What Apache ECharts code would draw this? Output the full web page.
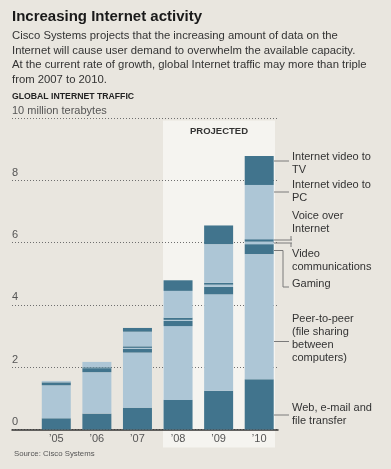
<!DOCTYPE html>
<html><head><meta charset="utf-8">
<script src="https://cdn.jsdelivr.net/npm/echarts@6/dist/echarts.min.js"></script>
<style>html,body{margin:0;padding:0;background:#e9e6df;}#c{width:391px;height:469px;}</style>
</head><body><div id="c"></div>
<script>
// ---- data (10 million terabytes) ----
const years = ['\u201905', '\u201906', '\u201907', '\u201908', '\u201909', '\u201910'];
const webEmail = [0.36, 0.51, 0.70, 0.95, 1.24, 1.61];
const peerToPeer = [1.06, 1.33, 1.77, 2.37, 3.10, 4.02];
const gaming = [0.09, 0.13, 0.12, 0.17, 0.24, 0.32];
const videoComm = [0.01, 0.01, 0.03, 0.03, 0.07, 0.08];
const voip = [0.01, 0.02, 0.05, 0.07, 0.06, 0.08];
const videoPC = [0.03, 0.17, 0.47, 0.86, 1.24, 1.74];
const videoTV = [0.00, 0.00, 0.12, 0.34, 0.60, 0.93];
const yTicks = [0, 2, 4, 6, 8, 10];
const yTopLabel = '10 million terabytes';

const DARK = '#41748d', LIGHT = '#adc6d6';
const FONT = '"Liberation Sans", Arial, Helvetica, sans-serif';

const seriesDefs = [
  ['Web, e-mail and file transfer', webEmail, DARK],
  ['Peer-to-peer', peerToPeer, LIGHT],
  ['Gaming', gaming, DARK],
  ['Video communications', videoComm, LIGHT],
  ['Voice over Internet', voip, DARK],
  ['Internet video to PC', videoPC, LIGHT],
  ['Internet video to TV', videoTV, DARK]
];

const chart = echarts.init(document.getElementById('c'), null, {renderer: 'canvas'});

const ann = [
  {t: 'Internet video to\nTV', y: 150.2},
  {t: 'Internet video to\nPC', y: 178.5},
  {t: 'Voice over\nInternet', y: 209.2},
  {t: 'Video\ncommunications', y: 247.5},
  {t: 'Gaming', y: 277.5},
  {t: 'Peer-to-peer\n(file sharing\nbetween\ncomputers)', y: 312.5},
  {t: 'Web, e-mail and\nfile transfer', y: 401.2}
];
const leaderLines = [
  [[274,161],[289,161]],
  [[274,192],[289,192]],
  [[274,240],[292,240]],
  [[291,236],[291,240]],
  [[274,243],[292,243]],
  [[291,243],[291,247]],
  [[274,250.5],[283,250.5],[283,287],[289,287]],
  [[274,341.5],[289,341.5]],
  [[274,415],[289,415]]
];

const graphics = [];
ann.forEach(a => graphics.push({
  type: 'text', left: 292, top: a.y, silent: true,
  style: {text: a.t, fill: '#333', font: '11px ' + FONT, lineHeight: 13}
}));
leaderLines.forEach(p => graphics.push({
  type: 'polyline', silent: true, shape: {points: p},
  style: {stroke: '#7a7a7a', lineWidth: 1, fill: null}
}));

chart.setOption({
  backgroundColor: '#e9e6df',
  animation: false,
  title: [
    {text: 'Increasing Internet activity', left: 12, top: 9, padding: 0,
      textStyle: {fontFamily: FONT, fontSize: 15, fontWeight: 'bold', color: '#1a1a1a'}},
    {text: 'Cisco Systems projects that the increasing amount of data on the\nInternet will cause user demand to overwhelm the available capacity.\nAt the current rate of growth, global Internet traffic may more than triple\nfrom 2007 to 2010.',
      left: 12, top: 28.6, padding: 0,
      textStyle: {fontFamily: FONT, fontSize: 11.3, fontWeight: 'normal', color: '#333', lineHeight: 14.7}},
    {text: 'GLOBAL INTERNET TRAFFIC', left: 12, top: 92.3, padding: 0,
      textStyle: {fontFamily: FONT, fontSize: 8.7, fontWeight: 'bold', color: '#222'}},
    {text: 'PROJECTED', left: 219, textAlign: 'center', top: 126, padding: 0,
      textStyle: {fontFamily: FONT, fontSize: 9.5, fontWeight: 'bold', color: '#333'}},
    {text: 'Source: Cisco Systems', left: 14, top: 450, padding: 0,
      textStyle: {fontFamily: FONT, fontSize: 7.8, fontWeight: 'normal', color: '#555'}}
  ],
  grid: [
    {left: 12, width: 266, top: 118, height: 311.5, containLabel: false},
    {left: 36, width: 243.5, top: 118, height: 311.5, containLabel: false},
    {left: 163, width: 112, top: 120.5, height: 327, show: true, backgroundColor: '#f5f4f0', borderWidth: 0}
  ],
  xAxis: [
    {gridIndex: 0, type: 'value', min: 0, max: 1, axisLine: {show: true, lineStyle: {color: '#333', width: 1.5}},
      axisTick: {show: false}, axisLabel: {show: false}, splitLine: {show: false}},
    {gridIndex: 1, type: 'category', data: years, axisLine: {show: false}, axisTick: {show: false},
      axisLabel: {color: '#555', fontFamily: FONT, fontSize: 11, margin: 4}},
    {gridIndex: 2, type: 'value', show: false}
  ],
  yAxis: [
    {gridIndex: 0, type: 'value', min: 0, max: 10, interval: 2,
      axisLine: {show: false}, axisTick: {show: false},
      axisLabel: {inside: true, margin: 0, align: 'left', verticalAlign: 'bottom', padding: [0, 0, 2, 0],
        color: '#555', fontFamily: FONT, fontSize: 11,
        formatter: v => (v === 10 ? yTopLabel : (yTicks.indexOf(v) >= 0 ? String(v) : ''))},
      splitLine: {show: true, lineStyle: {color: '#6e6e6e', type: [1, 2], width: 1}}},
    {gridIndex: 1, type: 'value', min: 0, max: 10, show: false, splitLine: {show: false}},
    {gridIndex: 2, type: 'value', show: false}
  ],
  series: seriesDefs.map(d => ({
    name: d[0], type: 'bar', stack: 'total', xAxisIndex: 1, yAxisIndex: 1,
    barWidth: 29, data: d[1], itemStyle: {color: d[2]}, z: 3
  })),
  graphic: graphics
});
</script></body></html>
